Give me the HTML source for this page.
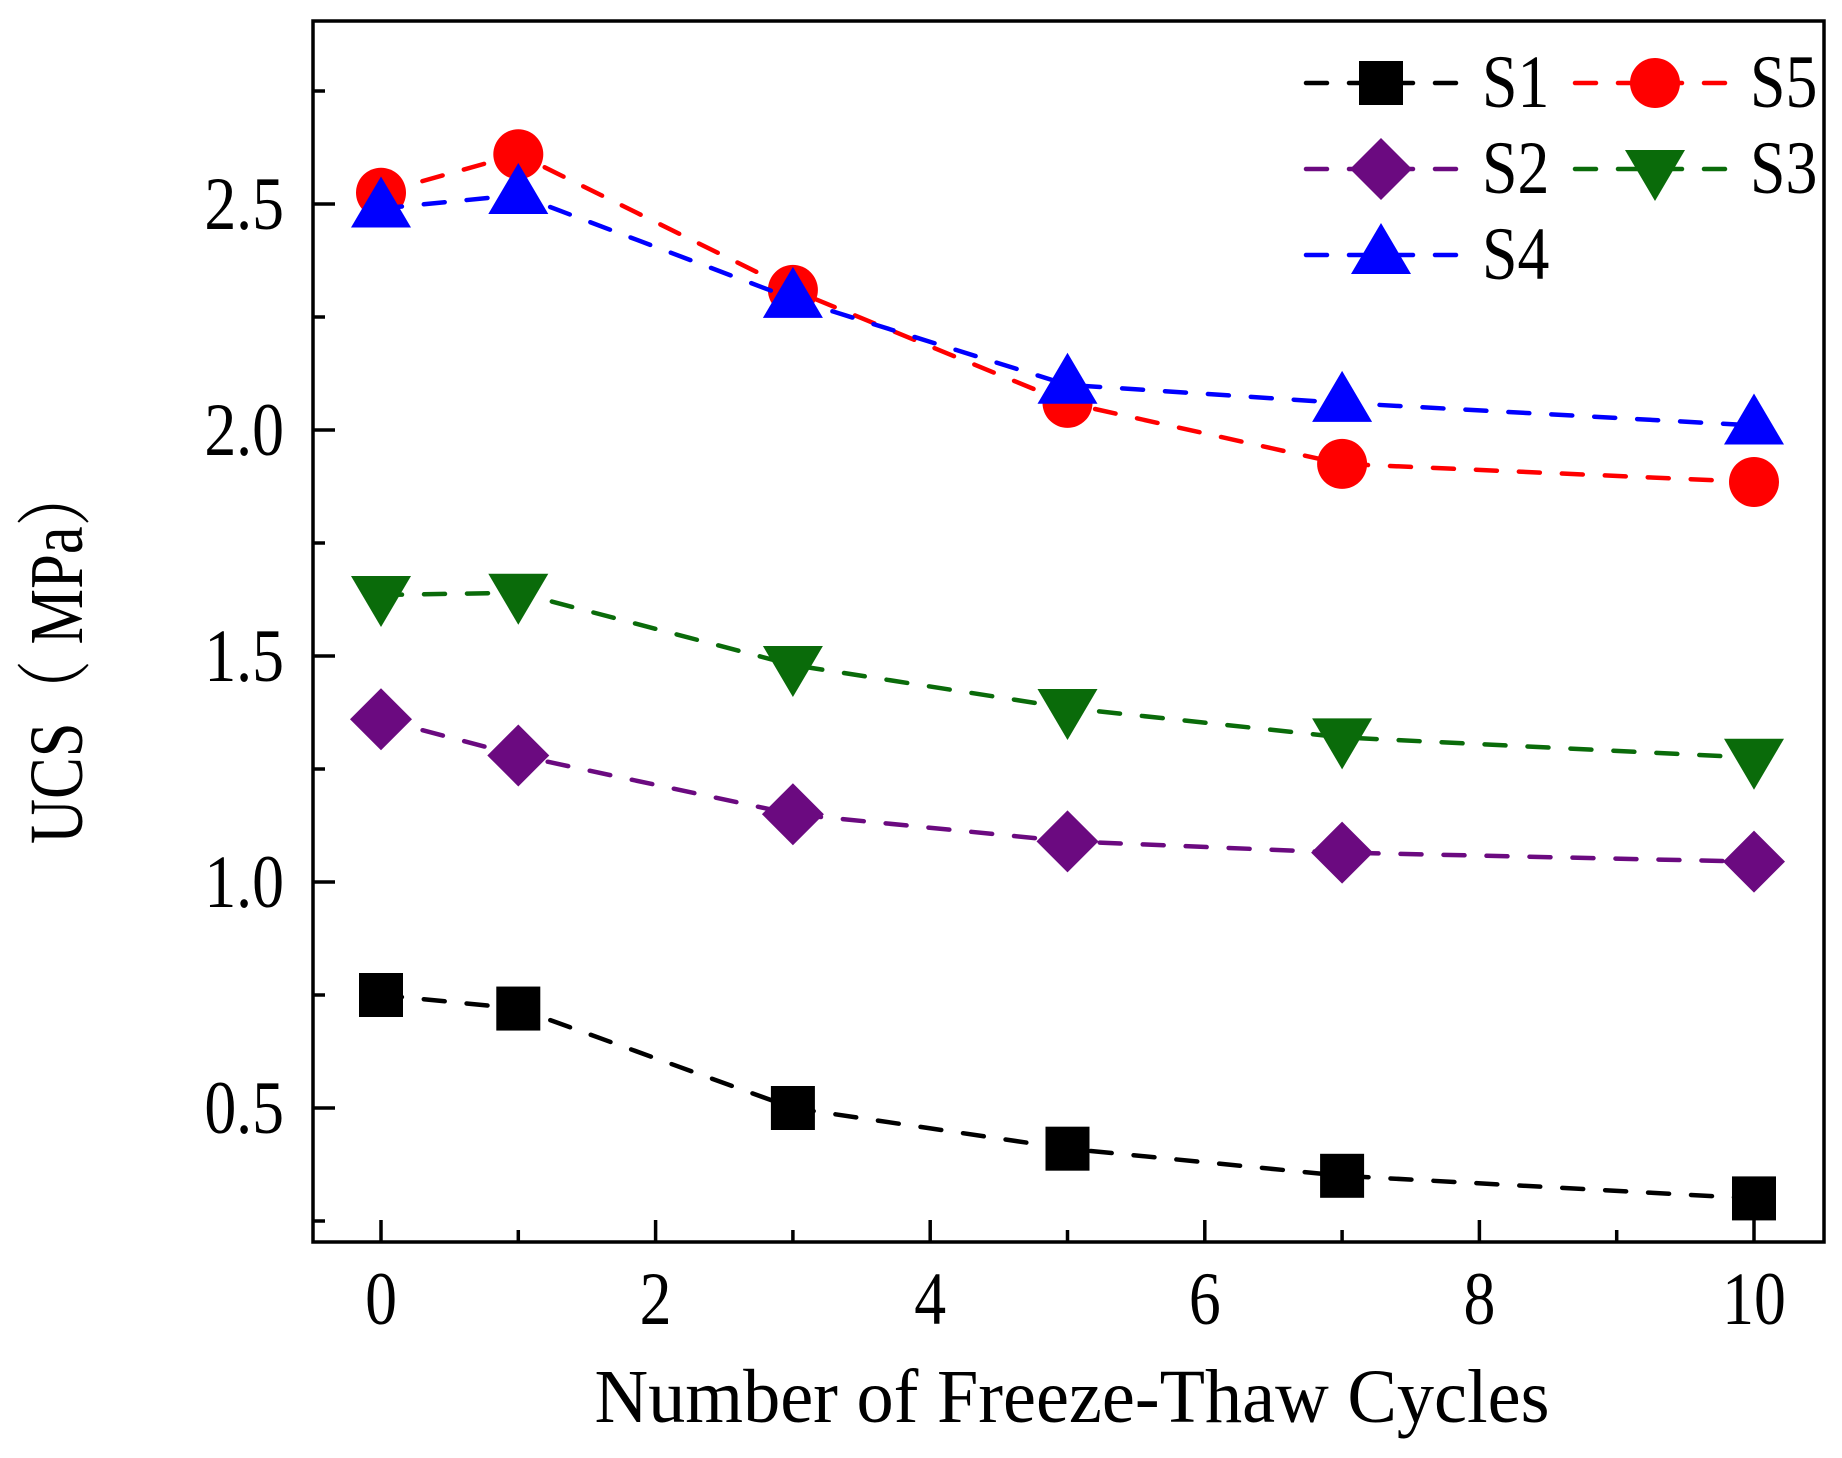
<!DOCTYPE html>
<html><head><meta charset="utf-8"><style>
html,body{margin:0;padding:0;background:#fff;}
svg{display:block;font-family:"Liberation Serif","Noto Serif CJK SC",serif;}
</style></head><body>
<svg id="chart" width="1842" height="1458" viewBox="0 0 1842 1458" xmlns="http://www.w3.org/2000/svg">
<rect x="0" y="0" width="1842" height="1458" fill="#fff"/>
<g id="marks"></g>
<rect x="313" y="21" width="1511" height="1221" fill="none" stroke="#000" stroke-width="3.5"/>
<g id="axes"></g>
<text x="1072" y="1422" font-size="76" text-anchor="middle" textLength="955" lengthAdjust="spacingAndGlyphs">Number of Freeze-Thaw Cycles</text>
<text transform="translate(82,654) rotate(-90)" font-size="76" text-anchor="middle" textLength="380" lengthAdjust="spacingAndGlyphs">UCS（ MPa）</text>
<g id="legend"></g>
</svg>
<script>
const cycles=[0,1,3,5,7,10];
const s1=[0.75,0.72,0.50,0.41,0.35,0.30];
const s2=[1.36,1.28,1.15,1.09,1.065,1.045];
const s3=[1.635,1.64,1.48,1.385,1.32,1.275];
const s4=[2.49,2.52,2.29,2.10,2.06,2.01];
const s5=[2.525,2.61,2.31,2.06,1.925,1.885];
const xTicks=[0,2,4,6,8,10];
const yTicks=[0.5,1.0,1.5,2.0,2.5];
const yTickLabels=["0.5","1.0","1.5","2.0","2.5"];

const NS="http://www.w3.org/2000/svg";
function X(v){return 381+v*137.3;}
function Y(v){return 1108-(v-0.5)*452;}
function mk(tag,attrs,parent){const e=document.createElementNS(NS,tag);for(const k in attrs)e.setAttribute(k,attrs[k]);parent.appendChild(e);return e;}
function txt(str,x,y,anchor,size,parent){const t=mk('text',{x:0,y:0,'font-size':size,'text-anchor':anchor,transform:`translate(${x},${y}) scale(0.85,1)`},parent);t.textContent=str;return t;}
const axes=document.getElementById('axes'),marks=document.getElementById('marks'),legend=document.getElementById('legend');

for(let v=0;v<=10;v+=1){const major=v%2===0;
 const t=mk('line',{x1:X(v),x2:X(v),y1:1242,y2:1242-(major?22:12),stroke:'#000','stroke-width':3.5},axes);
 
 }
xTicks.forEach(v=>{const t=txt(String(v),X(v),1324,'middle',75,axes);
 
 });
for(let v=0.25;v<=2.76;v+=0.25){const major=Math.abs(v*2-Math.round(v*2))<1e-6;
 const t=mk('line',{x1:313,x2:313+(major?22:12),y1:Y(v),y2:Y(v),stroke:'#000','stroke-width':3.5},axes);
 
 }
yTicks.forEach((v,i)=>{const t=txt(yTickLabels[i],284,Y(v)+25,'end',75,axes);
 
 });

function marker(shape,color,cx,cy,parent){
 if(shape==='square')return mk('rect',{x:cx-22,y:cy-22,width:44,height:44,fill:color},parent);
 if(shape==='circle')return mk('circle',{cx:cx,cy:cy,r:25,fill:color},parent);
 if(shape==='diamond')return mk('polygon',{points:`${cx},${cy-31} ${cx+31},${cy} ${cx},${cy+31} ${cx-31},${cy}`,fill:color},parent);
 if(shape==='up')return mk('polygon',{points:`${cx},${cy-32} ${cx+30},${cy+19} ${cx-30},${cy+19}`,fill:color},parent);
 return mk('polygon',{points:`${cx},${cy+32} ${cx+30},${cy-19} ${cx-30},${cy-19}`,fill:color},parent);
}
const series=[[s1,'#000','square'],[s2,'#6b0a80','diamond'],[s3,'#0a6b0a','down'],[s5,'#ff0000','circle'],[s4,'#0000ff','up']];
const names=['s1','s2','s3','s5','s4'];
series.forEach(([d,c,sh],i)=>{
 const p=mk('polyline',{points:d.map((v,j)=>X(cycles[j])+','+Y(v)).join(' '),fill:'none',stroke:c,'stroke-width':4.5,'stroke-dasharray':'21 22','stroke-linecap':'round'},marks);
 
 
 d.forEach((v,j)=>{const m=marker(sh,c,X(cycles[j]),Y(v),marks);
  
  });
});
const leg=[[0,0,'#000','square'],[0,1,'#6b0a80','diamond'],[0,2,'#0000ff','up'],[1,0,'#ff0000','circle'],[1,1,'#0a6b0a','down']];
const legNames=['S1','S2','S4','S5','S3'];
leg.forEach(([col,row,c,sh],i)=>{
 const x0=col?1575:1306,x1=col?1730:1456,mx=col?1655:1381,tx=col?1750:1482,y=83+row*86;
 const g=mk('g',{},legend);
 
 
 mk('line',{x1:x0,x2:x1,y1:y,y2:y,stroke:c,'stroke-width':4.5,'stroke-dasharray':'21 22','stroke-linecap':'round'},g);
 marker(sh,c,mx,y,g);
 txt(legNames[i],tx,y+24,'start',75,g);
});
</script>
</body></html>
